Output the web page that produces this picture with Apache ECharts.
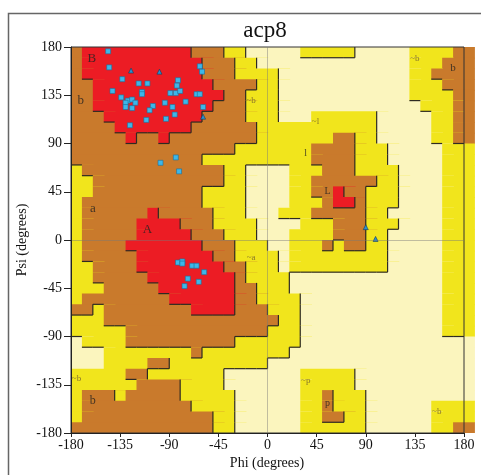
<!DOCTYPE html>
<html><head><meta charset="utf-8">
<script src="https://cdn.jsdelivr.net/npm/echarts@6/dist/echarts.min.js"></script>
<style>html,body{margin:0;padding:0;background:#fff}#c{width:481px;height:475px}</style>
</head><body><div id="c"></div>
<script>
const chartTitle = 'acp8';
const xName = 'Phi (degrees)';
const yName = 'Psi (degrees)';
const xTicks = [-180, -135, -90, -45, 0, 45, 90, 135, 180];
const yTicks = [-180, -135, -90, -45, 0, 45, 90, 135, 180];

// Region grid, 10-degree cells. Row 0 = psi 170..180, column 0 = phi -180..-170.
// 0 = generously allowed (pale), 1 = additional allowed (yellow), 2 = allowed (brown), 3 = core (red)
const regionRows = [
  '233333333332221100000111110000011112',
  '233333333333222110000000000000011122',
  '233333333333222111100000000000011222',
  '223333333333322221100000000000011122',
  '223333333333332211100000000000011112',
  '223333333333322211100000000000001112',
  '222333333333222211100011111100000112',
  '222233333332222221111111111100000112',
  '222223223222222221111111221100000112',
  '222222222222222111111122221110000011',
  '222222222222111111111122221110000011',
  '122222222222221100001112221111000011',
  '112222222222221100001122222211000011',
  '112222222222111100001122322111000011',
  '122222222222111100001112332111000011',
  '122222232222211100011122222110000011',
  '122222333322211110000111222111000011',
  '122222333332221110001111222110000011',
  '122223333333222111001112122110000011',
  '122222333333322111101111111110000011',
  '112222333333332211101111111110000011',
  '112222233333333211110000000000000011',
  '111222223333333221110000000000000011',
  '122222222333333221111000000000000011',
  '221222222223333222111000000000000011',
  '111222222222222222211000000000000011',
  '111112222222222222111000000000000011',
  '011112222222222111111000000000000000',
  '000111111112111111110000000000000000',
  '000111122111111111000000000000000000',
  '111112211111110000000111110000000000',
  '111111222211110000000111110000000000',
  '122212222211111000000112111000000000',
  '122222222221111000000112111000000111',
  '122222222222211000000112211000000111',
  '222222222222211000000111111000000112'
];
const regionColors = ['#FBF5BE', '#F1E51C', '#C97A2C', '#EC1C24'];

// Residues (non-glycine): phi / psi in degrees
const resPhi = [-146,-145,-133,-118,-110,-142,-115,-115,-134,-128,-124,-121,-130,-130,-124,-105,-108,-111,-126,-94,-89,-84,-82,-83,-80,-87,-85,-93,-75,-65,-62,-59,-62,-60,-84,-98,-81,
                -82,-78,-78,-69,-65,-58,-73,-63,-76];
const resPsi = [176,161,150,146,146,139,138,136,133,130,131,128,128,124,123,125,121,112,107,128,137,137,149,144,139,124,117,113,129,136,136,124,162,157,77,72,64,
                -21,-20,-22,-24,-24,-30,-36,-39,-43];
// Glycine residues
const glyPhi = [-125, -99, -59, 90, 99];
const glyPsi = [158, 157, 115, 12, 1];

// Region labels
const labelText = ['B','b','a','A','~b','~a','~l','l','L','~b','b','~p','p','~b','~b','b'];
const labelPhi  = [-161,-171,-160,-110,-15,-15,44,35,55,135,170,35,55,155,-175,-160];
const labelPsi  = [169,130,29,10,130,-16,110,81,45,169,160,-131,-152,-160,-129,-150];
const labelSize = [13,13,13,13,9,9,9,10,10,9,11,9,10,9,9,12];

// horizontal runs of equal cells: [phiStart, phiEnd, psiBottom, value]
const runData = [];
regionRows.forEach((row, r) => {
  let c = 0;
  while (c < row.length) {
    let e = c;
    while (e + 1 < row.length && row[e + 1] === row[c]) e++;
    runData.push([-180 + 10 * c, -170 + 10 * e, 170 - 10 * r, +row[c]]);
    c = e + 1;
  }
});
const edgeData = [];
regionRows.forEach((row, r) => {
  for (let c = 0; c < row.length; c++) {
    const v = +row[c];
    const phi0 = -180 + 10 * c, psi0 = 170 - 10 * r;
    if (c < row.length - 1 && +row[c + 1] < v) edgeData.push([phi0 + 10, psi0, phi0 + 10, psi0 + 10]);
    if (r < regionRows.length - 1 && +regionRows[r + 1][c] < v) edgeData.push([phi0, psi0, phi0 + 10, psi0]);
  }
});

const serif = 'Liberation Serif';
const chart = echarts.init(document.getElementById('c'), null, {renderer: 'canvas'});
chart.setOption({
  animation: false,
  backgroundColor: '#fff',
  grid: {left: 71, top: 47, width: 393, height: 386, show: true, z: 5,
         borderColor: '#333', borderWidth: 1, backgroundColor: 'transparent'},
  xAxis: {type: 'value', min: -180, max: 180, interval: 45, z: 6,
    axisLine: {show: true, onZero: false, lineStyle: {color: '#222', width: 1}},
    axisTick: {show: true, length: 4, lineStyle: {color: '#222'}},
    splitLine: {show: false},
    axisLabel: {margin: 5, fontFamily: serif, fontSize: 14, color: '#111'}},
  yAxis: {type: 'value', min: -180, max: 180, interval: 45, z: 6,
    axisLine: {show: true, onZero: false, lineStyle: {color: '#222', width: 1}},
    axisTick: {show: true, length: 7, lineStyle: {color: '#222'}},
    splitLine: {show: false},
    axisLabel: {margin: 9, fontFamily: serif, fontSize: 14, color: '#111'}},
  graphic: [
    {type: 'rect', shape: {x: 8.5, y: 13.5, width: 490, height: 480}, style: {fill: 'none', stroke: '#666', lineWidth: 1.5}, z: 0},
    {type: 'text', x: 265, y: 31, style: {text: chartTitle, font: '23px "Liberation Serif"', fill: '#111', align: 'center', verticalAlign: 'middle'}},
    {type: 'text', x: 267, y: 463, style: {text: xName, font: '14px "Liberation Serif"', fill: '#111', align: 'center', verticalAlign: 'middle'}},
    {type: 'text', x: 22, y: 240, rotation: Math.PI / 2, style: {text: yName, font: '14px "Liberation Serif"', fill: '#111', align: 'center', verticalAlign: 'middle'}}
  ],
  series: [
    {type: 'custom', z: 1, data: runData, silent: true,
      renderItem: (params, api) => {
        const p0 = api.coord([api.value(0), api.value(2) + 10]);
        const p1 = api.coord([api.value(1) + 10, api.value(2)]);
        const last = api.value(1) >= 170, bottom = api.value(2) <= -180;
        const col = regionColors[api.value(3)];
        return {type: 'rect', shape: {x: p0[0], y: p0[1],
                  width: p1[0] - p0[0] + (last ? 0 : 0.8), height: p1[1] - p0[1] + (bottom ? 0 : 0.8)},
                style: {fill: col}};
      }},
    {type: 'custom', z: 2, data: edgeData, silent: true,
      renderItem: (params, api) => {
        const a = api.coord([api.value(0), api.value(1)]);
        const b = api.coord([api.value(2), api.value(3)]);
        return {type: 'line', shape: {x1: a[0], y1: a[1], x2: b[0], y2: b[1]},
                style: {stroke: '#2e2a22', lineWidth: 1.2}};
      },
      markLine: {silent: true, symbol: ['none', 'none'], label: {show: false},
        lineStyle: {color: 'rgba(120,120,120,0.45)', width: 1, type: 'solid'},
        emphasis: {disabled: true},
        data: [{xAxis: 0}, {yAxis: 0}]}},
    {type: 'scatter', z: 3, silent: true, symbolSize: 0,
      data: labelText.map((t, i) => ({value: [labelPhi[i], labelPsi[i], t],
        label: {fontSize: labelSize[i], color: t.startsWith('~') ? '#6e5a2e' : '#222'}})),
      label: {show: true, position: 'inside', fontFamily: serif,
        formatter: p => p.value[2]}},
    {type: 'scatter', z: 4, symbol: 'rect', symbolSize: 5,
      data: resPhi.map((v, i) => [v, resPsi[i]]),
      itemStyle: {color: '#3DB7E9', borderColor: '#1d6f98', borderWidth: 0.6, opacity: 1}},
    {type: 'scatter', z: 4, symbol: 'triangle', symbolSize: 5,
      data: glyPhi.map((v, i) => [v, glyPsi[i]]),
      itemStyle: {color: '#2a8fcf', borderColor: '#123a55', borderWidth: 0.6, opacity: 1}}
  ]
});
</script></body></html>
